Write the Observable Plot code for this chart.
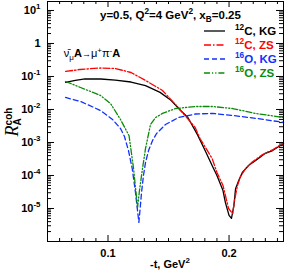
<!DOCTYPE html>
<html><head><meta charset="utf-8">
<script src="https://cdn.jsdelivr.net/npm/d3@7"></script>
<script src="https://cdn.jsdelivr.net/npm/@observablehq/plot@0.6"></script>
<style>
html,body{margin:0;padding:0;background:#fff;}
#chart svg{display:block;}
</style></head><body><div id="chart"></div>
<script>
// ---- data ----
const tC12KG = [0.065,0.073,0.081,0.094,0.106,0.119,0.131,0.143,0.152,0.160,0.166,0.174,0.181,0.186,0.190,0.195,0.197,0.200,0.202,0.204,0.2054,0.208,0.211,0.216,0.222,0.230,0.236,0.245];
const rC12KG = [0.066,0.076,0.084,0.084,0.078,0.068,0.053,0.033,0.019,0.0093,0.0057,0.0017,5.0e-4,2.0e-4,1.0e-4,3.5e-5,1.5e-5,6.2e-6,5.0e-6,1.2e-5,4.0e-5,7.0e-5,1.23e-4,2.0e-4,2.85e-4,4.7e-4,5.7e-4,9.3e-4];

const tC12ZS = [0.065,0.077,0.094,0.106,0.119,0.131,0.145,0.158,0.172,0.176,0.181,0.186,0.190,0.195,0.1996,0.203,0.2045,0.207,0.2095,0.2136,0.2194,0.2277,0.236,0.245];
const rC12ZS = [0.142,0.163,0.181,0.175,0.132,0.0757,0.0377,0.0115,0.00285,0.00132,6.6e-4,3.3e-4,1.23e-4,5.0e-5,1.0e-5,7.0e-6,1.74e-5,5.0e-5,9.3e-5,1.6e-4,2.6e-4,4.3e-4,6.0e-4,9.6e-4];

const tO16KG = [0.0649,0.0773,0.0938,0.1037,0.1103,0.1136,0.1169,0.1200,0.1227,0.1255,0.1264,0.1277,0.1293,0.1310,0.1335,0.1368,0.1401,0.1475,0.1583,0.1723,0.1864,0.2029,0.2219,0.2450];
const rO16KG = [0.0231,0.0175,0.0093,0.00498,0.00266,0.00152,5.7e-4,1.63e-4,3.05e-5,3.8e-6,8.7e-6,3.05e-5,1.0e-4,2.48e-4,5.7e-4,1.15e-3,1.87e-3,3.5e-3,5.7e-3,7.3e-3,7.6e-3,6.6e-3,5.4e-3,4.07e-3];

const tO16ZS = [0.0649,0.0773,0.0938,0.1021,0.1103,0.1174,0.1211,0.1244,0.1260,0.1285,0.1310,0.1351,0.1393,0.1450,0.1558,0.1723,0.1864,0.2029,0.2219,0.2450];
const rO16ZS = [0.0705,0.0464,0.0266,0.0152,0.00498,0.0016,1.63e-4,1.07e-5,3.5e-5,1.63e-4,6.6e-4,3.5e-3,5.7e-3,7.6e-3,0.0107,0.0123,0.0123,0.0107,0.0076,0.0057];

const seriesNames = ["^{12}C, KG", "^{12}C, ZS", "^{16}O, KG", "^{16}O, ZS"];
const seriesT = [tC12KG, tC12ZS, tO16KG, tO16ZS];
const seriesR = [rC12KG, rC12ZS, rO16KG, rO16ZS];

const yTickValues = [10, 1, 0.1, 0.01, 1e-3, 1e-4, 1e-5];
const yTickLabels = ["10^{1}", "1", "10^{-1}", "10^{-2}", "10^{-3}", "10^{-4}", "10^{-5}"];
const xTickValues = [0.1, 0.2];
const xTickLabels = ["0.1", "0.2"];

const headerText = "y=0.5, Q^{2}=4 GeV^{2}, x_{B}=0.25";
const xTitle = "-t, GeV^{2}";

// ---- styles ----
const colors = ["#000000", "#ff0000", "#1030ff", "#0a8a0a"];
const dashes = [null, "7,2,1.5,2", "5,3", "6,2,1.2,2,1.2,2"];
const FONT = "'Liberation Sans', Arial, Helvetica, sans-serif";
const W = 289, H = 270, mL = 47, mR = 6, mT = 1, mB = 29;
const iw = W - mL - mR, ih = H - mT - mB;

// axis minor ticks
const yMinor = [];
for (let e = -6; e <= 1; e++) for (let k = 2; k <= 9; k++) { const v = k * Math.pow(10, e); if (v >= 1e-6 && v <= 18.7) yMinor.push(v); }
const xMinor = d3.range(5, 25).map(i => i / 100).filter(v => !xTickValues.some(m => Math.abs(m - v) < 1e-9));

const yLabelMap = new Map(yTickValues.map((v, i) => [v, yTickLabels[i]]));
const xLabelMap = new Map(xTickValues.map((v, i) => [v, xTickLabels[i]]));

const lineMarks = seriesT.map((ts, s) => Plot.line(ts.map((t, i) => ({t, r: seriesR[s][i]})), {
  x: "t", y: "r", stroke: colors[s], strokeWidth: 1.3,
  strokeDasharray: dashes[s] || undefined
}));

const plot = Plot.plot({
  width: W, height: H,
  marginLeft: mL, marginRight: mR, marginTop: mT, marginBottom: mB,
  style: {fontFamily: FONT, background: "#fff", color: "#000"},
  x: {domain: [0.05, 0.245]},
  y: {type: "log", domain: [1e-6, 18.7]},
  marks: [
    Plot.tickY(yTickValues, {y: d => d, insetRight: iw - 7, stroke: "#000"}),
    Plot.tickY(yTickValues, {y: d => d, insetLeft: iw - 7, stroke: "#000"}),
    Plot.tickY(yMinor, {y: d => d, insetRight: iw - 4, stroke: "#000"}),
    Plot.tickY(yMinor, {y: d => d, insetLeft: iw - 4, stroke: "#000"}),
    Plot.tickX(xMinor, {x: d => d, insetTop: ih - 3, stroke: "#000"}),
    Plot.tickX(xMinor, {x: d => d, insetBottom: ih - 3, stroke: "#000"}),
    Plot.tickX(xTickValues, {x: d => d, insetTop: ih - 6, stroke: "#000"}),
    Plot.tickX(xTickValues, {x: d => d, insetBottom: ih - 6, stroke: "#000"}),
    Plot.axisY({ticks: yTickValues, tickSize: 0, tickPadding: 7, label: null,
      tickFormat: d => yLabelMap.get(d), fontSize: 11, fontWeight: "bold"}),
    Plot.axisX({ticks: xTickValues, tickSize: 0, tickPadding: 8, label: null,
      tickFormat: d => xLabelMap.get(d), fontSize: 11, fontWeight: "bold"}),
    ...lineMarks,
    Plot.frame({stroke: "#000", strokeWidth: 1})
  ]
});
document.getElementById("chart").appendChild(plot);

// ---- rich text (super/subscripts) ----
function rich(sel, markup, size) {
  sel.text(null);
  let cur = 0, last = null, lastType = null;
  const re = /([\^_])\{([^}]*)\}|([^\^_]+)/g;
  let m;
  while ((m = re.exec(markup))) {
    const type = m[1] ? (m[1] === "^" ? "sup" : "sub") : "norm";
    const txt = m[1] ? m[2] : m[3];
    const shift = type === "sup" ? -0.42 * size : type === "sub" ? 0.28 * size : 0;
    const ts = sel.append("tspan").text(txt);
    if (type !== "norm") ts.attr("font-size", 0.72 * size);
    if (shift !== cur) { ts.attr("dy", shift - cur); cur = shift; }
    last = ts; lastType = type;
  }
}
const svg = d3.select(plot);
svg.selectAll("text").each(function() {
  const s = this.textContent;
  if (/[\^_]\{/.test(s)) rich(d3.select(this), s, 11);
});

function addRich(x, y, markup, {size = 11, weight = "bold", fill = "#000", anchor = "start"} = {}) {
  const t = svg.append("text").attr("x", x).attr("y", y)
    .attr("font-family", FONT).attr("font-size", size).attr("font-weight", weight)
    .attr("fill", fill).attr("text-anchor", anchor);
  rich(t, markup, size);
  return t;
}

// header
addRich(100, 19, headerText, {size: 11.5});

// reaction
{
  const t = svg.append("text").attr("x", 92).attr("y", 57)
    .attr("font-family", FONT).attr("font-size", 11).attr("fill", "#000");
  t.append("tspan").text("\u03BD\u0304");
  t.append("tspan").attr("font-size", 8).attr("dy", 3).text("\u03BC");
  t.append("tspan").attr("font-weight", "bold").attr("dy", -3).text("A");
  t.append("tspan").attr("font-size", 9).text("\u2192");
  t.append("tspan").text("\u03BC");
  t.append("tspan").attr("font-size", 8).attr("dy", -4).text("+");
  t.append("tspan").attr("dy", 4).text("\u03C0");
  t.append("tspan").attr("font-size", 8).attr("dy", -4).text("-");
  t.append("tspan").attr("font-weight", "bold").attr("dy", 4).text("A");
}

// legend
const rowY = [31, 45, 59, 73];
seriesNames.forEach((name, i) => {
  svg.append("line").attr("x1", 204).attr("x2", 225).attr("y1", rowY[i]).attr("y2", rowY[i])
    .attr("stroke", colors[i]).attr("stroke-width", 1.3)
    .attr("stroke-dasharray", dashes[i] || null);
  addRich(235, rowY[i] + 4, name, {size: 11.5, fill: colors[i]});
});

// x title
addRich(150, 268, xTitle, {size: 11});

// y title: R_A^coh, rotated
{
  const g = svg.append("g").attr("transform", "translate(18,122) rotate(-90)");
  const t = g.append("text").attr("text-anchor", "middle").attr("fill", "#000");
  t.append("tspan").attr("font-family", "'Liberation Serif', 'Times New Roman', serif")
    .attr("font-style", "italic").attr("font-size", 18).text("R");
  const a = t.append("tspan").attr("font-family", FONT).attr("font-weight", "bold")
    .attr("font-size", 10).attr("dy", 3).text("A");
  const aw = a.node().getComputedTextLength();
  t.append("tspan").attr("font-family", FONT).attr("font-weight", "bold")
    .attr("font-size", 10).attr("dx", -aw).attr("dy", -9).text("coh");
}
</script>
</body></html>
